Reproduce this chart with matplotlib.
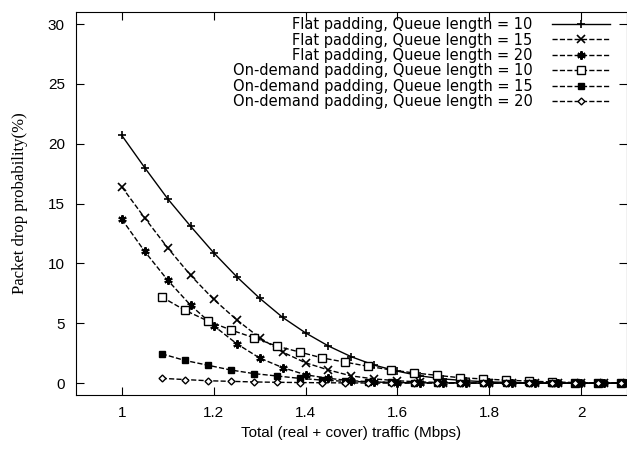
import matplotlib
matplotlib.use('Agg')
import matplotlib.pyplot as plt

# x positions (Mbps)
x_flat = [1.0, 1.05, 1.1, 1.15, 1.2, 1.25, 1.3, 1.35, 1.4, 1.45, 1.5, 1.55,
          1.6, 1.65, 1.7, 1.75, 1.8, 1.85, 1.9, 1.95, 2.0, 2.05, 2.1]
x_ond = [1.087, 1.137, 1.187, 1.237, 1.287, 1.337, 1.387, 1.437, 1.487, 1.537,
         1.587, 1.637, 1.687, 1.737, 1.787, 1.837, 1.887, 1.937, 1.987, 2.037, 2.087]

flat_q10 = [20.7, 18.0, 15.4, 13.1, 10.9, 8.9, 7.1, 5.5, 4.2, 3.1, 2.2, 1.5,
            1.0, 0.6, 0.35, 0.2, 0.1, 0.05, 0.02, 0.01, 0.0, 0.0, 0.0]
flat_q15 = [16.4, 13.8, 11.3, 9.0, 7.0, 5.3, 3.8, 2.6, 1.7, 1.1, 0.6, 0.35,
            0.2, 0.1, 0.05, 0.02, 0.01, 0.0, 0.0, 0.0, 0.0, 0.0, 0.0]
flat_q20 = [13.7, 11.0, 8.6, 6.5, 4.8, 3.3, 2.1, 1.3, 0.7, 0.4, 0.2, 0.1,
            0.05, 0.02, 0.01, 0.0, 0.0, 0.0, 0.0, 0.0, 0.0, 0.0, 0.0]
ond_q10 = [7.2, 6.1, 5.2, 4.45, 3.8, 3.1, 2.6, 2.1, 1.75, 1.4, 1.1, 0.85,
           0.65, 0.45, 0.35, 0.25, 0.17, 0.1, 0.05, 0.02, 0.01]
ond_q15 = [2.45, 1.9, 1.5, 1.1, 0.8, 0.6, 0.4, 0.25, 0.15, 0.1, 0.06, 0.03,
           0.02, 0.01, 0.0, 0.0, 0.0, 0.0, 0.0, 0.0, 0.0]
ond_q20 = [0.4, 0.3, 0.2, 0.15, 0.1, 0.07, 0.05, 0.03, 0.02, 0.01, 0.0, 0.0,
           0.0, 0.0, 0.0, 0.0, 0.0, 0.0, 0.0, 0.0, 0.0]

labels = ['Flat padding, Queue length = 10',
          'Flat padding, Queue length = 15',
          'Flat padding, Queue length = 20',
          'On-demand padding, Queue length = 10',
          'On-demand padding, Queue length = 15',
          'On-demand padding, Queue length = 20']

fig = plt.figure(figsize=(6.27, 4.5), dpi=100)
ax = fig.add_axes([0.121, 0.122, 0.879, 0.851])

sty = dict(color='black', linewidth=1.0, markersize=6)
ax.plot(x_flat, flat_q10, '-', marker='+', label=labels[0], markeredgewidth=1.2, **sty)
ax.plot(x_flat, flat_q15, '--', marker='x', label=labels[1], markeredgewidth=1.2, **sty)
ax.plot(x_flat, flat_q20, '--', marker=(6, 2, 0), label=labels[2], markeredgewidth=1.5, **sty)
ax.plot(x_ond, ond_q10, '--', marker='s', mfc='white', label=labels[3], markeredgewidth=1.0, **sty)
ax.plot(x_ond, ond_q15, '--', marker='s', mfc='black', label=labels[4], markersize=5, color='black', linewidth=1.0)
ax.plot(x_ond, ond_q20, '--', marker='D', mfc='white', label=labels[5], markersize=3.5, color='black', linewidth=1.0)

ax.set_xlim(0.9, 2.1)
ax.set_ylim(-1, 31)
ax.set_xticks([1, 1.2, 1.4, 1.6, 1.8, 2])
ax.set_xticklabels(['1', '1.2', '1.4', '1.6', '1.8', '2'])
ax.set_yticks([0, 5, 10, 15, 20, 25, 30])
ax.tick_params(direction='in', top=True, right=True, length=6, labelsize=11, pad=8)
for lab in ax.get_xticklabels() + ax.get_yticklabels():
    lab.set_family('Liberation Sans')

ax.set_xlabel('Total (real + cover) traffic (Mbps)', fontsize=11, family='Liberation Sans')
ax.set_ylabel('Packet drop probability(%)', fontsize=12, family='Liberation Serif', labelpad=14)

ax.legend(loc='upper right', bbox_to_anchor=(1 - 17 / 551, 1 - 5 / 383),
          markerfirst=False, frameon=False, handlelength=4.0,
          prop={'family': 'DejaVu Sans', 'size': 10.5}, labelspacing=0.03,
          borderaxespad=0, borderpad=0, handletextpad=1.3)

plt.savefig('out.png', dpi=100)
plt.close()
